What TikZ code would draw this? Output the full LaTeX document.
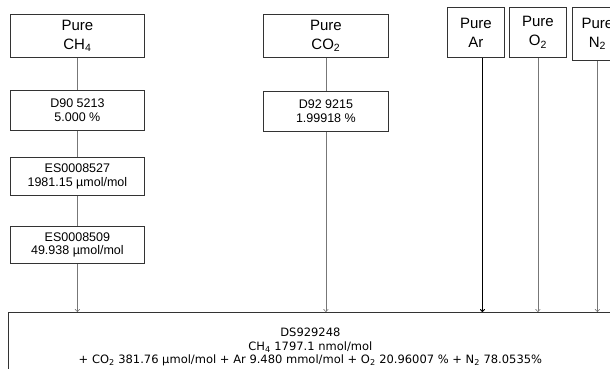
\documentclass[tikz,border=0pt]{standalone}
\usepackage{fontspec}
\setmainfont{Liberation Sans}
\newfontfamily\mixfont{DejaVu Sans}
\usepackage{xcolor}
\usepackage{tikz}
\usetikzlibrary{arrows.meta,positioning,calc}

\definecolor{boxline}{HTML}{333333}
\definecolor{feedline}{HTML}{777777}

\tikzset{
  purebox/.style={draw=boxline, line width=0.8pt, anchor=north west, inner sep=0pt,
    align=center, font=\fontsize{15}{19}\selectfont},
  valbox/.style={draw=boxline, line width=0.8pt, anchor=north west, inner sep=0pt,
    align=center, minimum width=134pt, font=\fontsize{12.5}{13.5}\selectfont},
  mixbox/.style={draw=boxline, line width=0.8pt, anchor=north west, inner sep=0pt,
    align=center, font=\mixfont\fontsize{11.5}{13.5}\selectfont},
  feed/.style={draw=feedline, line width=0.6pt},
  feedin/.style={feed, -{To[length=3pt,width=5pt]}},
  feedstrong/.style={draw=black, line width=0.9pt, -{To[length=3pt,width=5pt]}}
}

\begin{document}
\begin{tikzpicture}[x=1pt, y=-1pt]
  \useasboundingbox (0,0) rectangle (610,368);

  % pure gases
  \node[purebox, minimum width=134pt, minimum height=43pt] (ch4) at (10,14) {Pure\\CH\textsubscript{4}};
  \node[purebox, minimum width=125pt, minimum height=43pt] (co2) at (263,14) {Pure\\CO\textsubscript{2}};
  \node[purebox, minimum width=57pt, minimum height=50pt] (ar) at (447,7) {Pure\\Ar};
  \node[purebox, minimum width=57pt, minimum height=50pt] (o2) at (509,7) {Pure\\O\textsubscript{2}};
  \node[purebox, minimum width=50pt, minimum height=53pt] (n2) at (572,7) {Pure\\N\textsubscript{2}};

  % dilution steps
  \node[valbox, minimum height=40pt] (d90) at (10,90) {D90 5213\\5.000 \%};
  \node[valbox, minimum width=125pt, minimum height=40pt] (d92) at (263,91) {D92 9215\\1.99918 \%};
  \node[valbox, minimum height=38pt] (es27) at (10,157) {ES0008527\\1981.15 µmol/mol};
  \node[valbox, minimum height=37pt] (es09) at (10,226) {ES0008509\\49.938 µmol/mol};

  % final mixture
  \node[mixbox, minimum width=604pt, minimum height=70pt] (mix) at (8,312)
    {DS929248\\CH\textsubscript{4} 1797.1 nmol/mol\\+ CO\textsubscript{2} 381.76 µmol/mol + Ar 9.480 mmol/mol + O\textsubscript{2} 20.96007 \% + N\textsubscript{2} 78.0535\%};

  \draw[feed] (ch4) -- (d90);
  \draw[feed] (d90) -- (es27);
  \draw[feed] (es27) -- (es09);
  \draw[feedin] (es09.south) -- (es09.south |- mix.north);
  \draw[feed] (co2) -- (d92);
  \draw[feedin] (d92.south) -- (d92.south |- mix.north);
  \draw[feedstrong] ([xshift=6.5pt]ar.south) -- ([xshift=6.5pt]ar.south |- mix.north);
  \draw[feedin] (o2.south) -- (o2.south |- mix.north);
  \draw[feedin] (n2.south) -- (n2.south |- mix.north);
\end{tikzpicture}
\end{document}
